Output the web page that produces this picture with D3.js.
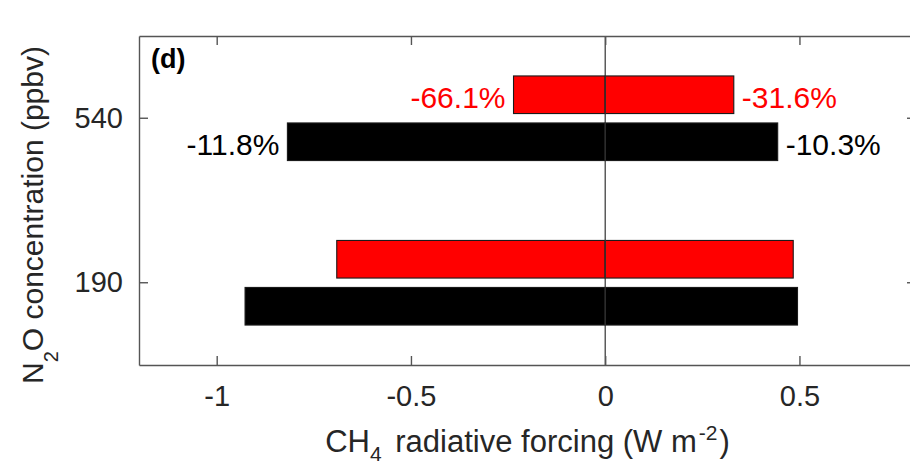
<!DOCTYPE html>
<html>
<head>
<meta charset="utf-8">
<script src="https://cdn.jsdelivr.net/npm/d3@7"></script>
<style>
  html, body { margin: 0; padding: 0; background: #fff; }
  svg { display: block; font-family: "Liberation Sans", Arial, Helvetica, sans-serif; }
</style>
</head>
<body>
<svg id="chart" width="910" height="467"></svg>
<script>
// N2O concentration levels (ppbv), bottom to top
const categories = ["190", "540"];
// series: red = scenario A, black = scenario B
const seriesNames = ["red", "black"];
// CH4 radiative forcing (W m-2): negative and positive components
const redNeg   = [-0.691, -0.236];
const redPos   = [0.484, 0.331];
const blackNeg = [-0.927, -0.818];
const blackPos = [0.495, 0.444];
// percentage change labels drawn next to the 540 ppbv bars
const redLabels   = ["", "-66.1%"];
const redLabelsR  = ["", "-31.6%"];
const blackLabels = ["", "-11.8%"];
const blackLabelsR= ["", "-10.3%"];
const xTicks = [-1, -0.5, 0, 0.5];
const xTickLabels = ["-1", "-0.5", "0", "0.5"];
const seriesColors = { red: "#ff0000", black: "#000000" };

const svg = d3.select("#chart");
const plot = { left: 139, right: 916, top: 36, bottom: 365 };

const x = d3.scaleLinear().domain([-1.2, 0.8]).range([plot.left, plot.right]);
const y = d3.scaleBand().domain(categories).range([plot.bottom, plot.top]).paddingInner(0).paddingOuter(0);
const groupHalf = y.bandwidth() * 0.2857;
const ySeries = d3.scaleBand().domain(seriesNames)
  .range([-groupHalf, groupHalf]).paddingInner(0.2).paddingOuter(0.1);

const rows = categories.map((c, i) => ({
  cat: c,
  red:   { neg: redNeg[i],   pos: redPos[i],   lbl: redLabels[i],   lblR: redLabelsR[i] },
  black: { neg: blackNeg[i], pos: blackPos[i], lbl: blackLabels[i], lblR: blackLabelsR[i] }
}));

const axisColor = "#555";
const tickColor = "#262626";

// bars: each spans from its negative to its positive component, split at zero
const bars = [];
rows.forEach(r => seriesNames.forEach(s => bars.push({ cat: r.cat, s, ...r[s] })));

const g = svg.append("g");
bars.forEach(b => {
  const y0 = y(b.cat) + y.bandwidth() / 2 + ySeries(b.s);
  [[b.neg, 0], [0, b.pos]].forEach(([a, c]) => {
    g.append("rect")
      .attr("x", x(Math.min(a, c)))
      .attr("y", y0)
      .attr("width", Math.abs(x(c) - x(a)))
      .attr("height", ySeries.bandwidth())
      .attr("fill", seriesColors[b.s])
      .attr("stroke", "#1a1a1a")
      .attr("stroke-width", 1.1);
  });
  const cy = y0 + ySeries.bandwidth() / 2;
  if (b.lbl) {
    g.append("text").attr("x", x(b.neg) - 8).attr("y", cy + 13.5)
      .attr("text-anchor", "end").attr("font-size", 30)
      .attr("fill", seriesColors[b.s]).text(b.lbl);
  }
  if (b.lblR) {
    g.append("text").attr("x", x(b.pos) + 8).attr("y", cy + 13.5)
      .attr("text-anchor", "start").attr("font-size", 30)
      .attr("fill", seriesColors[b.s]).text(b.lblR);
  }
});

// zero line
svg.append("line")
  .attr("x1", x(0)).attr("x2", x(0))
  .attr("y1", plot.top).attr("y2", plot.bottom)
  .attr("stroke", "#333").attr("stroke-width", 1.2);

// axes (ticks pointing inward)
function styleAxis(sel) {
  sel.select(".domain").attr("stroke", axisColor).attr("stroke-width", 1.4);
  sel.selectAll(".tick line").attr("stroke", axisColor).attr("stroke-width", 1.4);
  sel.selectAll(".tick text").attr("fill", tickColor).attr("font-size", 29)
    .attr("font-family", "Liberation Sans, Arial, sans-serif");
}
const fmtX = d => xTickLabels[xTicks.indexOf(d)];

svg.append("g").attr("transform", `translate(0,${plot.bottom})`)
  .call(d3.axisBottom(x).tickValues(xTicks).tickFormat(fmtX).tickSizeInner(-9).tickSizeOuter(0).tickPadding(20))
  .call(styleAxis);
svg.append("g").attr("transform", `translate(0,${plot.top})`)
  .call(d3.axisTop(x).tickValues(xTicks).tickFormat("").tickSizeInner(-9).tickSizeOuter(0))
  .call(styleAxis);
svg.append("g").attr("transform", `translate(${plot.left},0)`)
  .call(d3.axisLeft(y).tickSizeInner(-9).tickSizeOuter(0).tickPadding(16))
  .call(styleAxis);
svg.append("g").attr("transform", `translate(${plot.right},0)`)
  .call(d3.axisRight(y).tickFormat("").tickSizeInner(-9).tickSizeOuter(0))
  .call(styleAxis);

// panel letter
svg.append("text").attr("x", 151).attr("y", 68)
  .attr("font-size", 27).attr("font-weight", "bold").attr("fill", "#000").text("(d)");

// x-axis title
const xt = svg.append("text").attr("x", (plot.left + plot.right) / 2).attr("y", 452)
  .attr("text-anchor", "middle").attr("font-size", 31).attr("fill", tickColor);
xt.append("tspan").text("CH");
xt.append("tspan").attr("dy", 9).attr("font-size", 21).text("4");
xt.append("tspan").attr("dy", -9).attr("dx", 5).text(" radiative forcing (W m");
xt.append("tspan").attr("dy", -12).attr("dx", 2).attr("font-size", 21).text("-2");
xt.append("tspan").attr("dy", 12).attr("dx", 2).text(")");

// y-axis title
const yt = svg.append("text")
  .attr("transform", "translate(43,384) rotate(-90)")
  .attr("text-anchor", "start").attr("font-size", 30).attr("fill", tickColor);
yt.append("tspan").text("N");
yt.append("tspan").attr("dy", 15).attr("font-size", 20).text("2");
yt.append("tspan").attr("dy", -15).text("O concentration (ppbv)");
</script>
</body>
</html>
